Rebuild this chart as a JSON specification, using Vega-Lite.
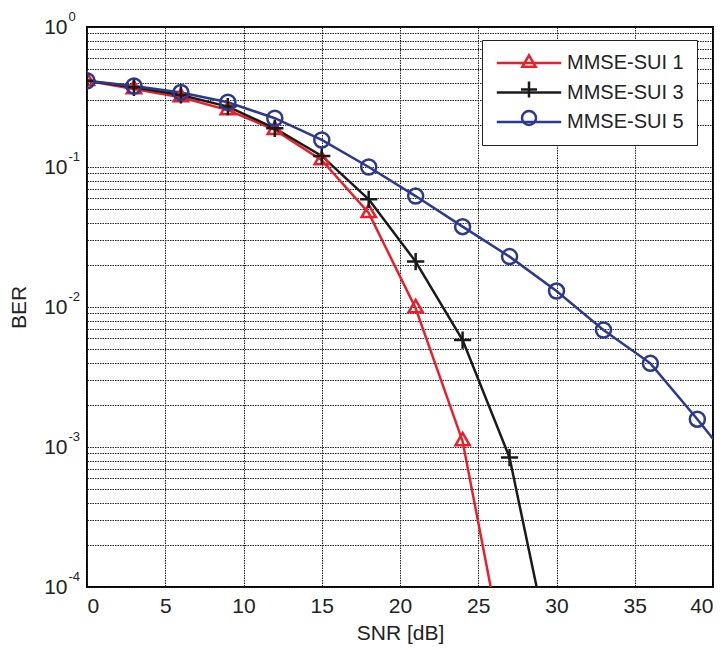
{
  "$schema": "https://vega.github.io/schema/vega-lite/v6.json",
  "autosize": {"type": "none"},
  "padding": {"left": 87, "top": 27, "right": 14, "bottom": 63},
  "width": 626,
  "height": 560,
  "background": "white",
  "config": {
    "font": "Liberation Sans",
    "view": {"stroke": "#000", "strokeWidth": 2},
    "axis": {
      "labelFont": "Liberation Sans",
      "titleFont": "Liberation Sans",
      "labelFontSize": 21,
      "titleFontSize": 21,
      "labelColor": "#222",
      "titleColor": "#222",
      "titleFontWeight": "normal",
      "domain": false,
      "ticks": false,
      "grid": true,
      "gridColor": "#222",
      "gridDash": [1.5, 1],
      "gridWidth": 1,
      "gridOpacity": 1
    },
    "legend": {
      "orient": "none",
      "legendX": 395,
      "legendY": 13,
      "padding": 13,
      "labelFontSize": 20,
      "labelFont": "Liberation Sans",
      "labelColor": "#222",
      "labelOffset": 28,
      "symbolOffset": 24,
      "rowPadding": 2.5,
      "symbolSize": 196,
      "symbolStrokeWidth": 2.5
    }
  },
  "data": {
    "values": [
      {"snr": 0, "ber": 0.413, "series": "MMSE-SUI 1"},
      {"snr": 3, "ber": 0.36, "series": "MMSE-SUI 1"},
      {"snr": 6, "ber": 0.315, "series": "MMSE-SUI 1"},
      {"snr": 9, "ber": 0.255, "series": "MMSE-SUI 1"},
      {"snr": 12, "ber": 0.184, "series": "MMSE-SUI 1"},
      {"snr": 15, "ber": 0.112, "series": "MMSE-SUI 1"},
      {"snr": 18, "ber": 0.047, "series": "MMSE-SUI 1"},
      {"snr": 21, "ber": 0.0098, "series": "MMSE-SUI 1"},
      {"snr": 24, "ber": 0.0011, "series": "MMSE-SUI 1"},
      {"snr": 27, "ber": 0.00002, "series": "MMSE-SUI 1"},
      {"snr": 0, "ber": 0.413, "series": "MMSE-SUI 3"},
      {"snr": 3, "ber": 0.371, "series": "MMSE-SUI 3"},
      {"snr": 6, "ber": 0.327, "series": "MMSE-SUI 3"},
      {"snr": 9, "ber": 0.27, "series": "MMSE-SUI 3"},
      {"snr": 12, "ber": 0.189, "series": "MMSE-SUI 3"},
      {"snr": 15, "ber": 0.12, "series": "MMSE-SUI 3"},
      {"snr": 18, "ber": 0.0588, "series": "MMSE-SUI 3"},
      {"snr": 21, "ber": 0.0211, "series": "MMSE-SUI 3"},
      {"snr": 24, "ber": 0.0058, "series": "MMSE-SUI 3"},
      {"snr": 27, "ber": 0.00084, "series": "MMSE-SUI 3"},
      {"snr": 30, "ber": 0.000021, "series": "MMSE-SUI 3"},
      {"snr": 0, "ber": 0.413, "series": "MMSE-SUI 5"},
      {"snr": 3, "ber": 0.379, "series": "MMSE-SUI 5"},
      {"snr": 6, "ber": 0.341, "series": "MMSE-SUI 5"},
      {"snr": 9, "ber": 0.29, "series": "MMSE-SUI 5"},
      {"snr": 12, "ber": 0.223, "series": "MMSE-SUI 5"},
      {"snr": 15, "ber": 0.156, "series": "MMSE-SUI 5"},
      {"snr": 18, "ber": 0.1, "series": "MMSE-SUI 5"},
      {"snr": 21, "ber": 0.062, "series": "MMSE-SUI 5"},
      {"snr": 24, "ber": 0.0375, "series": "MMSE-SUI 5"},
      {"snr": 27, "ber": 0.0229, "series": "MMSE-SUI 5"},
      {"snr": 30, "ber": 0.013, "series": "MMSE-SUI 5"},
      {"snr": 33, "ber": 0.00685, "series": "MMSE-SUI 5"},
      {"snr": 36, "ber": 0.00396, "series": "MMSE-SUI 5"},
      {"snr": 39, "ber": 0.00158, "series": "MMSE-SUI 5"},
      {"snr": 42, "ber": 0.0006, "series": "MMSE-SUI 5"}
    ]
  },
  "layer": [
    {
      "mark": {"type": "line", "strokeWidth": 2.5, "clip": true},
      "encoding": {
        "x": {
          "field": "snr",
          "type": "quantitative",
          "scale": {"domain": [0, 40], "nice": false},
          "axis": {
            "values": [0, 5, 10, 15, 20, 25, 30, 35, 40],
            "title": "SNR [dB]",
            "labelPadding": 8,
            "titlePadding": 6
          }
        },
        "y": {
          "field": "ber",
          "type": "quantitative",
          "scale": {"type": "log", "domain": [0.0001, 1], "nice": false},
          "axis": {
            "title": "BER",
            "labelPadding": 20,
            "titlePadding": 14,
            "labelOverlap": false,
            "labelBound": false,
            "labelFlush": false,
            "values": [0.0001, 0.0002, 0.0003, 0.0004, 0.0005, 0.0006, 0.0007, 0.0008, 0.0009, 0.001, 0.002, 0.003, 0.004, 0.005, 0.006, 0.007, 0.008, 0.009, 0.01, 0.02, 0.03, 0.04, 0.05, 0.06, 0.07, 0.08, 0.09, 0.1, 0.2, 0.3, 0.4, 0.5, 0.6, 0.7, 0.8, 0.9, 1],
            "labelExpr": "datum.value == 1 || datum.value == 0.1 || datum.value == 0.01 || datum.value == 0.001 || datum.value == 0.0001 ? '10' : ''"
          }
        },
        "color": {
          "field": "series",
          "type": "nominal",
          "scale": {
            "domain": ["MMSE-SUI 1", "MMSE-SUI 3", "MMSE-SUI 5"],
            "range": ["#e8202a", "#1a1a1a", "#2b3990"]
          },
          "legend": {
            "title": null,
            "fillColor": "white",
            "strokeColor": "#222",
            "rowPadding": 9.5,
            "symbolType": "M-4.6,0H4.6"
          }
        }
      }
    },
    {
      "mark": {"type": "point", "filled": false, "strokeWidth": 2.5, "size": 225, "clip": true, "opacity": 1},
      "encoding": {
        "x": {"field": "snr", "type": "quantitative"},
        "y": {
          "field": "ber",
          "type": "quantitative",
          "axis": {
            "orient": "left",
            "title": null,
            "grid": false,
            "labelPadding": 19,
            "labelAlign": "left",
            "labelFontSize": 13,
            "labelOffset": -11,
            "labelOverlap": false,
            "labelBound": false,
            "labelFlush": false,
            "values": [0.0001, 0.001, 0.01, 0.1, 1],
            "labelExpr": "datum.value == 1 ? '0' : datum.value == 0.1 ? '-1' : datum.value == 0.01 ? '-2' : datum.value == 0.001 ? '-3' : '-4'"
          }
        },
        "color": {
          "field": "series",
          "type": "nominal",
          "scale": {
            "domain": ["MMSE-SUI 1", "MMSE-SUI 3", "MMSE-SUI 5"],
            "range": ["#e8202a", "#1a1a1a", "#2b3990"]
          },
          "legend": {"title": null, "labelExpr": "''", "symbolSize": 196}
        },
        "shape": {
          "field": "series",
          "type": "nominal",
          "scale": {
            "domain": ["MMSE-SUI 1", "MMSE-SUI 3", "MMSE-SUI 5"],
            "range": ["M0,-1.1L0.95,0.55L-0.95,0.55Z", "M-1.15,0H1.15M0,-1.15V1.15", "circle"]
          },
          "legend": {"title": null, "labelExpr": "''", "symbolSize": 196}
        }
      }
    }
  ],
  "resolve": {"scale": {"color": "independent", "shape": "independent"}, "axis": {"y": "independent"}}
}
